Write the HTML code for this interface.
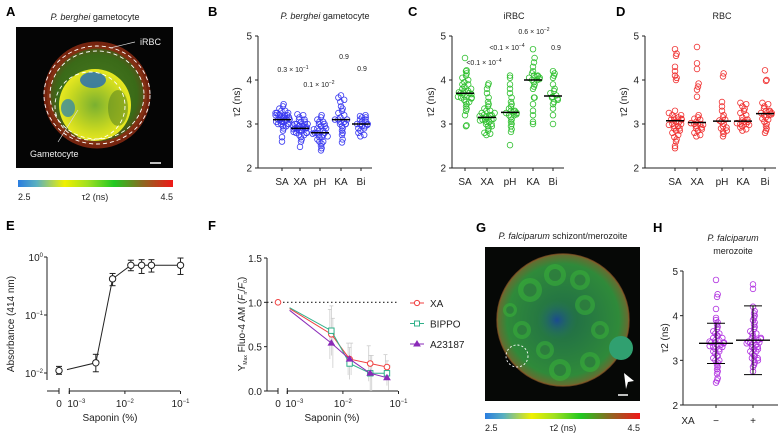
<!DOCTYPE html>
<html><head><meta charset="utf-8">
<style>
html,body{margin:0;padding:0;background:#fff;}
svg{display:block;font-family:"Liberation Sans",Arial,sans-serif;}
</style></head>
<body>
<svg id="fig" width="780" height="434" viewBox="0 0 780 434" xmlns="http://www.w3.org/2000/svg">
<defs>
<linearGradient id="cbar" x1="0" x2="1" y1="0" y2="0">
<stop offset="0" stop-color="#2a7de0"/><stop offset="0.12" stop-color="#5ab0c0"/><stop offset="0.3" stop-color="#f0f000"/><stop offset="0.45" stop-color="#a0e020"/><stop offset="0.62" stop-color="#20c820"/><stop offset="0.8" stop-color="#8a6a20"/><stop offset="1" stop-color="#f01818"/>
</linearGradient>
<radialGradient id="gamG" cx="0.5" cy="0.5" r="0.5"><stop offset="0" stop-color="#7ab030"/><stop offset="0.7" stop-color="#c8d820"/><stop offset="1" stop-color="#e8e820"/></radialGradient>
<radialGradient id="cellA" cx="0.5" cy="0.5" r="0.5"><stop offset="0" stop-color="#4a7a20"/><stop offset="0.8" stop-color="#3a6a18"/><stop offset="1" stop-color="#5a4a18"/></radialGradient>
<radialGradient id="cellG" cx="0.5" cy="0.5" r="0.5"><stop offset="0" stop-color="#1f6a48"/><stop offset="0.85" stop-color="#2f8a3a"/><stop offset="1" stop-color="#6a6a30"/></radialGradient>
<radialGradient id="blueG" cx="0.5" cy="0.5" r="0.5"><stop offset="0" stop-color="#1a4a90"/><stop offset="1" stop-color="#2a7a60" stop-opacity="0"/></radialGradient>
</defs>
</svg>
<script>
// ---------- DATA ----------
const stripCats = ["SA","XA","pH","KA","Bi"];
const bSA = [2.6,2.7,2.85,2.9,2.95,2.95,3.0,3.0,3.0,3.05,3.05,3.05,3.1,3.1,3.1,3.1,3.1,3.15,3.15,3.15,3.15,3.2,3.2,3.2,3.2,3.25,3.25,3.25,3.3,3.3,3.35,3.4,3.45,3.05,3.1,3.0,3.15,3.2];
const bXA = [2.48,2.6,2.65,2.7,2.75,2.75,2.8,2.8,2.8,2.85,2.85,2.85,2.85,2.9,2.9,2.9,2.9,2.9,2.9,2.95,2.95,2.95,2.95,3.0,3.0,3.0,3.0,3.05,3.05,3.1,3.1,3.15,3.2,3.22,2.88,2.92,2.82,2.97];
const bPH = [2.4,2.45,2.5,2.55,2.6,2.6,2.65,2.7,2.7,2.75,2.75,2.8,2.8,2.8,2.85,2.85,2.9,2.9,2.95,2.95,3.0,3.0,3.05,3.05,3.1,3.15,3.2,2.72,2.88,2.78];
const bKA = [2.58,2.65,2.75,2.8,2.85,2.9,2.95,3.0,3.0,3.05,3.05,3.1,3.1,3.15,3.2,3.25,3.3,3.35,3.4,3.5,3.55,3.6,3.65,3.0,3.1];
const bBI = [2.72,2.75,2.8,2.85,2.9,2.95,2.95,3.0,3.0,3.0,3.05,3.05,3.1,3.1,3.15,3.15,3.18,3.2,2.9,2.98];
const cSA = [2.95,2.97,3.2,3.3,3.35,3.4,3.45,3.5,3.5,3.55,3.6,3.6,3.65,3.65,3.7,3.7,3.7,3.75,3.75,3.8,3.8,3.85,3.9,3.9,3.95,4.0,4.05,4.1,4.15,4.2,4.22,4.5,3.68,3.72,3.58,3.62];
const cXA = [2.75,2.78,2.8,2.85,2.9,2.95,2.95,3.0,3.0,3.05,3.05,3.1,3.1,3.1,3.15,3.15,3.15,3.2,3.2,3.2,3.25,3.25,3.3,3.3,3.35,3.4,3.45,3.5,3.6,3.7,3.8,3.88,3.92,3.12,3.18,3.08];
const cPH = [2.52,2.82,2.88,2.95,3.0,3.05,3.1,3.15,3.2,3.2,3.25,3.25,3.3,3.3,3.35,3.4,3.45,3.5,3.6,3.7,3.8,3.9,4.05,4.1,3.22,3.28];
const cKA = [3.0,3.05,3.2,3.3,3.45,3.6,3.6,3.8,3.85,3.9,3.95,4.0,4.0,4.05,4.05,4.1,4.1,4.15,4.2,4.3,4.4,4.5,4.7,4.02,4.08];
const cBI = [3.0,3.2,3.35,3.45,3.5,3.55,3.6,3.62,3.65,3.7,3.75,3.8,3.9,4.05,4.1,4.15,4.2,3.58];
const dSA = [2.45,2.5,2.6,2.65,2.7,2.75,2.8,2.85,2.85,2.9,2.9,2.95,2.95,3.0,3.0,3.05,3.05,3.1,3.1,3.1,3.15,3.15,3.2,3.2,3.25,3.3,4.0,4.05,4.1,4.2,4.3,4.55,4.6,4.7,2.98,3.12];
const dXA = [2.72,2.75,2.8,2.85,2.88,2.9,2.92,2.95,3.0,3.0,3.05,3.1,3.12,3.15,3.2,3.62,3.78,3.85,3.92,4.25,4.38,4.75,2.98,3.02];
const dPH = [2.72,2.78,2.82,2.85,2.9,2.95,3.0,3.05,3.1,3.15,3.2,3.3,3.4,3.5,4.08,4.15,2.92,3.08];
const dKA = [2.85,2.88,2.92,2.95,3.0,3.0,3.05,3.05,3.08,3.1,3.15,3.2,3.25,3.3,3.35,3.4,3.45,3.48,2.98,3.02];
const dBI = [2.8,2.85,2.9,2.95,3.0,3.05,3.1,3.15,3.2,3.2,3.25,3.25,3.3,3.3,3.35,3.4,3.45,3.48,3.98,4.0,4.22,3.22,3.28,3.12];
const hMinus = [2.5,2.55,2.6,2.7,2.75,2.8,2.85,2.9,2.95,3.0,3.0,3.05,3.1,3.1,3.15,3.2,3.2,3.25,3.25,3.3,3.3,3.35,3.35,3.4,3.4,3.4,3.45,3.45,3.5,3.5,3.55,3.55,3.6,3.6,3.65,3.7,3.75,3.8,3.85,3.9,3.95,4.15,4.42,4.48,4.8,3.38,3.42,3.32];
const hPlus = [2.75,2.85,2.9,2.95,3.0,3.0,3.05,3.05,3.1,3.1,3.15,3.2,3.2,3.25,3.25,3.3,3.3,3.35,3.35,3.4,3.4,3.45,3.45,3.5,3.5,3.55,3.6,3.6,3.65,3.7,3.75,3.8,3.85,3.9,3.95,4.0,4.05,4.1,4.2,4.6,4.7,3.42,3.48,3.38];
const hMean = [3.38, 3.45];
const hSD = [0.45, 0.77];
const eX = [0, 0.003, 0.006, 0.0128, 0.02, 0.03, 0.1];
const eY = [0.011, 0.015, 0.42, 0.72, 0.72, 0.72, 0.72];
const eErrHi = [0.013, 0.021, 0.52, 0.88, 0.9, 0.9, 0.96];
const eErrLo = [0.0095, 0.0105, 0.32, 0.58, 0.52, 0.55, 0.5];
const fX = [0.0011, 0.0062, 0.0132, 0.031, 0.062];
const fXA = [0.93, 0.64, 0.36, 0.31, 0.27];
const fBIPPO = [0.94, 0.68, 0.31, 0.20, 0.20];
const fA23 = [0.91, 0.54, 0.36, 0.20, 0.15];
const fErr = [0.0, 0.28, 0.18, 0.2, 0.14];
const fSeriesNames = ["XA","BIPPO","A23187"];

// ---------- HELPERS ----------
const NS="http://www.w3.org/2000/svg";
const svg=document.getElementById('fig');
function mk(tag,attrs,parent){const e=document.createElementNS(NS,tag);for(const k in attrs)e.setAttribute(k,attrs[k]);(parent||svg).appendChild(e);return e;}
function txt(x,y,s,size,anchor,extra,parent){const e=mk('text',Object.assign({x:x,y:y,'font-size':size,'text-anchor':anchor||'middle',fill:'#222'},extra||{}),parent);e.innerHTML=s;return e;}
function median(a){const s=[...a].sort((p,q)=>p-q);const n=s.length;return n%2?s[(n-1)/2]:(s[n/2-1]+s[n/2])/2;}
// beeswarm offsets bounded to a half-width
function swarmOffsets(ys,binPx,step,halfW){
 const bins={};ys.forEach((y,i)=>{const b=Math.round(y/binPx);(bins[b]=bins[b]||[]).push(i);});
 const off=new Array(ys.length).fill(0);
 Object.values(bins).forEach(idx=>{const n=idx.length;if(n<2)return;
  const w=Math.min((n-1)*step,2*halfW);
  idx.forEach((j,k)=>{const order=(k%2?1:-1)*Math.ceil(k/2);const pos=(order+Math.floor(n/2))/(n-1);off[j]=-w/2+ (isNaN(pos)?0.5:Math.min(1,Math.max(0,pos)))*w + ((k*37)%5-2)*0.3;});
 });
 return off;
}

// ---------- PANEL LABELS ----------
[["A",6,16],["B",208,16],["C",408,16],["D",616,16],["E",6,230],["F",208,230],["G",476,232],["H",653,232]].forEach(p=>{
 const e=txt(p[1],p[2],p[0],13,'start',{'font-weight':'bold',fill:'#000'});
 
 
});

// ---------- PANEL A IMAGE ----------
(function(){
 const g=mk('g',{});
 
 
 mk('rect',{x:16,y:27,width:157,height:141,fill:'#050505'},g);
 mk('circle',{cx:97,cy:95,r:50,fill:'url(#cellA)'},g);
 mk('circle',{cx:97,cy:95,r:50,fill:'none',stroke:'#8a2a12',"stroke-width":7,opacity:0.85},g);
 mk('circle',{cx:95,cy:105,r:36,fill:'url(#gamG)'},g);
 mk('ellipse',{cx:93,cy:80,rx:13,ry:8,fill:'#2a70b0',opacity:0.85},g);
 mk('ellipse',{cx:68,cy:108,rx:7,ry:9,fill:'#3a8aa0',opacity:0.8},g);
 mk('ellipse',{cx:118,cy:108,rx:10,ry:18,fill:'#608a20',opacity:0.6},g);
 [[97,95,53,49],[97,95,47,44],[90,106,35,34]].forEach(c=>mk('ellipse',{cx:c[0],cy:c[1],rx:c[2],ry:c[3],fill:'none',stroke:'#fff','stroke-width':0.9,'stroke-dasharray':'4 3'},g));
 mk('line',{x1:110,y1:48,x2:135,y2:42,stroke:'#ddd','stroke-width':0.7},g);
 mk('line',{x1:78,y1:110,x2:58,y2:142,stroke:'#ddd','stroke-width':0.7},g);
 mk('line',{x1:150,y1:163,x2:161,y2:163,stroke:'#fff','stroke-width':1.5},g);
 const l1=txt(140,45,'iRBC',9,'start',{fill:'#eee'});
 
 
 const l2=txt(30,157,'Gametocyte',9,'start',{fill:'#eee'});
 
 
 const t=txt(95,20,'<tspan font-style="italic">P. berghei</tspan> gametocyte',9);
 
 
 const cb=mk('rect',{x:18,y:180,width:155,height:7,fill:'url(#cbar)'});
 
 
 txt(18,200,'2.5',9,'start');
 txt(95,200,'τ2 (ns)',9);
 txt(173,200,'4.5',9,'end');
})();

// ---------- STRIP PLOTS ----------
function stripPlot(opt){
 const g=mk('g',{});
 
 
 const y0=opt.yTop, y1=opt.yBot;
 const yS=v=>y1-(v-2)/3*(y1-y0);
 mk('line',{x1:opt.ax,y1:y0,x2:opt.ax,y2:y1,stroke:'#222','stroke-width':1},g);
 mk('line',{x1:opt.ax,y1:y1,x2:opt.xEnd,y2:y1,stroke:'#222','stroke-width':1},g);
 [2,3,4,5].forEach(v=>{mk('line',{x1:opt.ax-3,y1:yS(v),x2:opt.ax,y2:yS(v),stroke:'#222'},g);
  txt(opt.ax-6,yS(v)+3.5,String(v),10,'end',{},g);});
 const yl=txt(0,0,'τ2 (ns)',10,'middle',{transform:`translate(${opt.ax-18},${(y0+y1)/2}) rotate(-90)`});
 
 
 opt.cats.forEach((c,i)=>{
  const cx=opt.xs[i];
  mk('line',{x1:cx,y1:y1,x2:cx,y2:y1+3,stroke:'#222'},g);
  const tl=txt(cx,y1+17,c,10);
  
  
  const vals=opt.data[i];
  const ys=vals.map(yS);
  const offs=swarmOffsets(ys,5,3.2,opt.halfW);
  vals.forEach((v,j)=>{
   const dot=mk('circle',{cx:cx+offs[j],cy:ys[j],r:opt.r,fill:'none',stroke:opt.color,'stroke-width':0.8});
   
   
  });
  if(opt.medians){
   const m=median(vals);
   const ml=mk('line',{x1:cx-9,y1:yS(m),x2:cx+9,y2:yS(m),stroke:'#000','stroke-width':1.5});
   
   
  }
 });
 return yS;
}
stripPlot({name:'panel-b-chart',ax:258,xEnd:372,yTop:36,yBot:168,cats:stripCats,xs:[282,300,320,341,361],data:[bSA,bXA,bPH,bKA,bBI],color:'#3a3af0',r:2.8,halfW:7,medians:true});
stripPlot({name:'panel-c-chart',ax:452,xEnd:564,yTop:36,yBot:168,cats:stripCats,xs:[465,487,510,533,553],data:[cSA,cXA,cPH,cKA,cBI],color:'#30c030',r:2.8,halfW:7,medians:true});
stripPlot({name:'panel-d-chart',ax:645,xEnd:776,yTop:36,yBot:168,cats:stripCats,xs:[675,697,722,743,765],data:[dSA,dXA,dPH,dKA,dBI],color:'#f03030',r:2.8,halfW:7,medians:true});
(function(){
 const t1=txt(325,19,'<tspan font-style="italic">P. berghei</tspan> gametocyte',9);
 
 
 const t2=txt(514,19,'iRBC',9);
 
 
 const t3=txt(722,19,'RBC',9);
 
 
 const ann=[[293,72,'0.3 × 10<tspan dy="-3" font-size="5">−1</tspan>'],[319,87,'0.1 × 10<tspan dy="-3" font-size="5">−2</tspan>'],[344,59,'0.9'],[362,71,'0.9'],
  [484,65,'&lt;0.1 × 10<tspan dy="-3" font-size="5">−4</tspan>'],[507,50,'&lt;0.1 × 10<tspan dy="-3" font-size="5">−4</tspan>'],[534,34,'0.6 × 10<tspan dy="-3" font-size="5">−2</tspan>'],[556,50,'0.9']];
 ann.forEach(a=>{const e=txt(a[0],a[1],a[2],7);
  
  });
})();

// ---------- PANEL E ----------
(function(){
 const g=mk('g',{});
 
 
 const ax=47, yB=391, x0=59, xs0=69.3, dec=55.6;
 const xS=v=>v===0?x0:xs0+(Math.log10(v)+3)*dec;
 const yS=v=>257+(0-Math.log10(v))*58;
 mk('line',{x1:ax,y1:257,x2:ax,y2:380,stroke:'#222'},g);
 mk('line',{x1:ax,y1:yB,x2:x0,y2:yB,stroke:'#222'},g);
 mk('line',{x1:x0,y1:yB-3,x2:x0,y2:yB+3,stroke:'#222'},g);
 mk('line',{x1:xs0,y1:yB,x2:180,y2:yB,stroke:'#222'},g);
 mk('line',{x1:xs0,y1:yB-3,x2:xs0,y2:yB+3,stroke:'#222'},g);
 [[-3,'10<tspan dy="-4" font-size="6">−3</tspan>'],[-2,'10<tspan dy="-4" font-size="6">−2</tspan>'],[-1,'10<tspan dy="-4" font-size="6">−1</tspan>']].forEach(t=>{
  const x=xS(Math.pow(10,t[0]));
  mk('line',{x1:x,y1:yB,x2:x,y2:yB+3,stroke:'#222'},g);
  txt(x+(t[0]===-3?7:0),yB+16,t[1],10);
 });
 txt(x0,yB+16,'0',10);
 [[0,'10<tspan dy="-4" font-size="6">0</tspan>'],[-1,'10<tspan dy="-4" font-size="6">−1</tspan>'],[-2,'10<tspan dy="-4" font-size="6">−2</tspan>']].forEach(t=>{
  const y=yS(Math.pow(10,t[0]));
  mk('line',{x1:ax-3,y1:y,x2:ax,y2:y,stroke:'#222'},g);
  txt(ax-4,y+4,t[1],10,'end');
 });
 const xl=txt(110,421,'Saponin (%)',10);
 
 
 const yl=txt(0,0,'Absorbance (414 nm)',10,'middle',{transform:'translate(14,324) rotate(-90)'});
 
 
 let d='';
 eX.forEach((v,i)=>{d+=(i?'L':'M')+(i===0?xS(v)+8:xS(v))+','+(i===0?yS(eY[i])-1:yS(eY[i]));});
 const ln=mk('path',{d:d,fill:'none',stroke:'#222','stroke-width':1});
 
 
 eX.forEach((v,i)=>{
  const x=xS(v);
  mk('line',{x1:x,y1:yS(eErrHi[i]),x2:x,y2:yS(eErrLo[i]),stroke:'#222'});
  mk('line',{x1:x-3,y1:yS(eErrHi[i]),x2:x+3,y2:yS(eErrHi[i]),stroke:'#222'});
  mk('line',{x1:x-3,y1:yS(eErrLo[i]),x2:x+3,y2:yS(eErrLo[i]),stroke:'#222'});
  const c=mk('circle',{cx:x,cy:yS(eY[i]),r:3.2,fill:'#fff',stroke:'#222','stroke-width':1});
  
  
 });
})();

// ---------- PANEL F ----------
(function(){
 const g=mk('g',{});
 
 
 const ax=267, yB=391, x0=278, xs0=287.3, dec=55.6;
 const xS=v=>v===0?x0:xs0+(Math.log10(v)+3)*dec;
 const yS=v=>yB-v/1.5*(yB-258);
 mk('line',{x1:ax,y1:258,x2:ax,y2:yB,stroke:'#222'},g);
 mk('line',{x1:ax,y1:yB,x2:x0,y2:yB,stroke:'#222'},g);
 mk('line',{x1:x0,y1:yB-3,x2:x0,y2:yB+3,stroke:'#222'},g);
 mk('line',{x1:xs0,y1:yB,x2:398,y2:yB,stroke:'#222'},g);
 mk('line',{x1:xs0,y1:yB-3,x2:xs0,y2:yB+3,stroke:'#222'},g);
 [-3,-2,-1].forEach(t=>{const x=xS(Math.pow(10,t));
  mk('line',{x1:x,y1:yB,x2:x,y2:yB+3,stroke:'#222'},g);
  txt(x+(t===-3?7:0),yB+16,'10<tspan dy="-4" font-size="6">'+'−'+(-t)+'</tspan>',10);});
 txt(x0,yB+16,'0',10);
 [0,0.5,1.0,1.5].forEach(v=>{mk('line',{x1:ax-3,y1:yS(v),x2:ax,y2:yS(v),stroke:'#222'},g);
  txt(ax-5,yS(v)+4,v.toFixed(1),10,'end');});
 mk('line',{x1:ax,y1:yS(1),x2:398,y2:yS(1),stroke:'#222','stroke-dasharray':'1.5 2.5','stroke-width':1.1});
 const xl=txt(332,421,'Saponin (%)',10);
 
 
 const yl=txt(0,0,'Y<tspan dy="2" font-size="5">Max</tspan><tspan dy="-2"> Fluo-4 AM (</tspan><tspan font-style="italic">F</tspan><tspan dy="2" font-size="5">n</tspan><tspan dy="-2">/</tspan><tspan font-style="italic">F</tspan><tspan dy="2" font-size="5">0</tspan><tspan dy="-2">)</tspan>',10,'middle',{transform:'translate(245,324) rotate(-90)'});
 
 
 fX.forEach((v,i)=>{if(fErr[i]>0){const x=xS(v);
  [fXA,fBIPPO,fA23].forEach((s,k)=>{const xx=x+(k-1)*1.5;
   mk('line',{x1:xx,y1:yS(s[i]+fErr[i]),x2:xx,y2:yS(Math.max(0,s[i]-fErr[i])),stroke:'#ccc','stroke-width':0.8});
   mk('line',{x1:xx-2,y1:yS(s[i]+fErr[i]),x2:xx+2,y2:yS(s[i]+fErr[i]),stroke:'#ccc','stroke-width':0.8});});}});
 const cols=['#f04040','#30b08a','#8a2ab8'];
 [fXA,fBIPPO,fA23].forEach((s,k)=>{
  let d='';fX.forEach((v,i)=>{d+=(i?'L':'M')+xS(v)+','+yS(s[i]);});
  const p=mk('path',{d:d,fill:'none',stroke:cols[k],'stroke-width':1});
  
  
  fX.forEach((v,i)=>{if(i===0)return;const x=xS(v),y=yS(s[i]);
   let m;
   if(k===0)m=mk('circle',{cx:x,cy:y,r:2.8,fill:'#fff',stroke:cols[k]});
   else if(k===1)m=mk('rect',{x:x-2.7,y:y-2.7,width:5.4,height:5.4,fill:'#fff',stroke:cols[k]});
   else m=mk('path',{d:`M${x},${y-3}L${x+3},${y+2}L${x-3},${y+2}Z`,fill:cols[k],stroke:cols[k]});
   
   });
 });
 const z=mk('circle',{cx:xS(0),cy:yS(1),r:2.8,fill:'#fff',stroke:cols[0]});
 
 
 fSeriesNames.forEach((n,k)=>{
  const y=303+k*20.5;
  const lg=mk('g',{});
  
  
  mk('line',{x1:410,y1:y,x2:424,y2:y,stroke:cols[k]},lg);
  if(k===0)mk('circle',{cx:417,cy:y,r:2.6,fill:'#fff',stroke:cols[k]},lg);
  else if(k===1)mk('rect',{x:414.5,y:y-2.5,width:5,height:5,fill:'#fff',stroke:cols[k]},lg);
  else mk('path',{d:`M417,${y-3}L420,${y+2}L414,${y+2}Z`,fill:cols[k],stroke:cols[k]},lg);
  txt(430,y+4,n,10,'start',{},lg);
 });
})();

// ---------- PANEL G IMAGE ----------
(function(){
 const g=mk('g',{});
 
 
 mk('rect',{x:485,y:247,width:155,height:154,fill:'#060806'},g);
 mk('circle',{cx:563,cy:320,r:66,fill:'url(#cellG)'},g);
 mk('circle',{cx:563,cy:320,r:66,fill:'none',stroke:'#8a5a28','stroke-width':1.5,opacity:0.7},g);
 [[530,290,12],[555,275,11],[580,280,10],[522,330,9],[545,350,9],[560,370,11],[590,362,10],[600,330,9],[585,305,10],[510,310,7]].forEach(c=>{
  mk('circle',{cx:c[0],cy:c[1],r:c[2],fill:'#38b038',opacity:0.55},g);
  mk('circle',{cx:c[0],cy:c[1],r:c[2]*0.55,fill:'#2a6a40',opacity:0.6},g);});
 mk('circle',{cx:557,cy:320,r:20,fill:'url(#blueG)'},g);
 mk('circle',{cx:621,cy:348,r:12,fill:'#30a070'},g);
 mk('circle',{cx:517,cy:356,r:11,fill:'none',stroke:'#fff','stroke-width':0.9,'stroke-dasharray':'2 2'},g);
 mk('path',{d:'M624,373L634,381L628,382L626,389Z',fill:'#fff'},g);
 mk('line',{x1:618,y1:395,x2:628,y2:395,stroke:'#fff','stroke-width':1.5},g);
 const t=txt(563,239,'<tspan font-style="italic">P. falciparum</tspan> schizont/merozoite',9);
 
 
 const cb=mk('rect',{x:485,y:413,width:155,height:6,fill:'url(#cbar)'});
 
 
 txt(485,431,'2.5',9,'start');
 txt(563,431,'τ2 (ns)',9);
 txt(640,431,'4.5',9,'end');
})();

// ---------- PANEL H ----------
(function(){
 const g=mk('g',{});
 
 
 const ax=683, yT=271, yB=405;
 const yS=v=>yB-(v-2)/3*(yB-yT);
 mk('line',{x1:ax,y1:yT,x2:ax,y2:yB,stroke:'#222'},g);
 mk('line',{x1:ax,y1:yB,x2:778,y2:yB,stroke:'#222'},g);
 [2,3,4,5].forEach(v=>{mk('line',{x1:ax-3,y1:yS(v),x2:ax,y2:yS(v),stroke:'#222'},g);txt(ax-5,yS(v)+4,String(v),10,'end');});
 const yl=txt(0,0,'τ2 (ns)',10,'middle',{transform:`translate(668,${(yT+yB)/2}) rotate(-90)`});
 
 
 const t1=txt(733,241,'<tspan font-style="italic">P. falciparum</tspan>',9);
 
 
 txt(733,254,'merozoite',9);
 txt(688,424,'XA',10,'middle');
 const xs=[716,753], labels=['−','+'];
 [hMinus,hPlus].forEach((vals,i)=>{
  const cx=xs[i];
  mk('line',{x1:cx,y1:yB,x2:cx,y2:yB+3,stroke:'#222'},g);
  txt(cx,yB+19,labels[i],10);
  const ys=vals.map(yS);
  const offs=swarmOffsets(ys,4,3.3,13);
  vals.forEach((v,j)=>{
   const d=mk('circle',{cx:cx+offs[j],cy:ys[j],r:2.8,fill:'none',stroke:'#b030e0','stroke-width':0.8});
   
   });
  const m=hMean[i], s=hSD[i];
  const ml=mk('line',{x1:cx-17,y1:yS(m),x2:cx+17,y2:yS(m),stroke:'#000','stroke-width':1.4});
  
  
  mk('line',{x1:cx,y1:yS(m+s),x2:cx,y2:yS(m-s),stroke:'#000','stroke-width':1});
  mk('line',{x1:cx-9,y1:yS(m+s),x2:cx+9,y2:yS(m+s),stroke:'#000','stroke-width':1});
  mk('line',{x1:cx-9,y1:yS(m-s),x2:cx+9,y2:yS(m-s),stroke:'#000','stroke-width':1});
 });
})();
</script>
</body></html>
